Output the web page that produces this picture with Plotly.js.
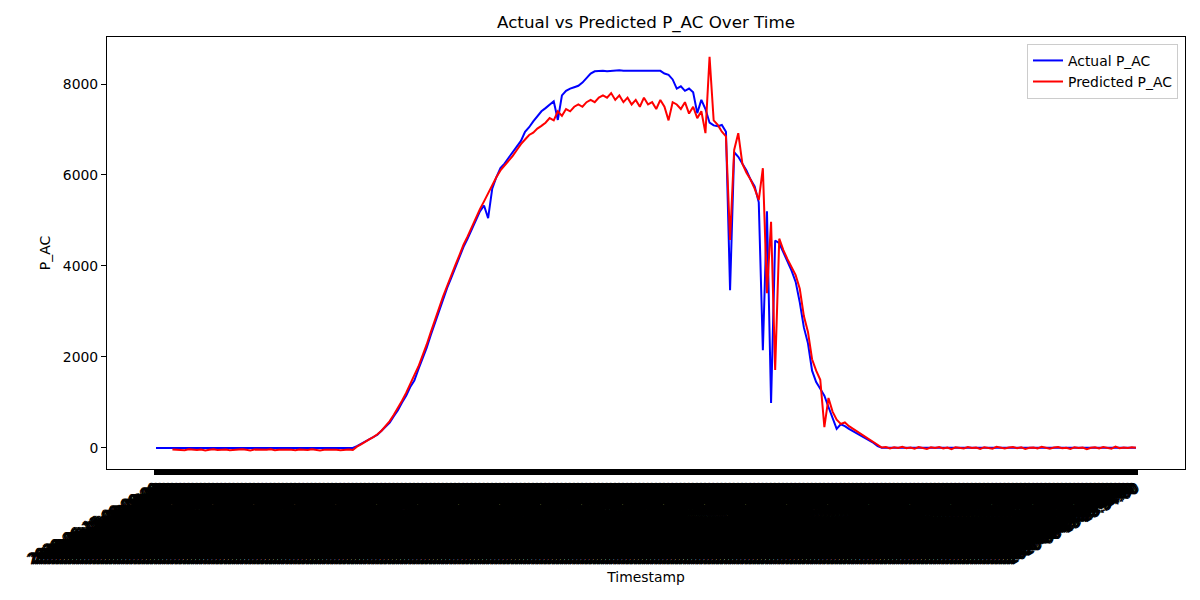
<!DOCTYPE html>
<html>
<head>
<meta charset="utf-8">
<script src="https://cdn.plot.ly/plotly-3.0.1.min.js"></script>
<style>
  html, body { margin: 0; padding: 0; background: #fff; }
  #chart { width: 1200px; height: 600px; }
</style>
</head>
<body>
<div id="chart"></div>
<script>
// timestamps: one label per sample, 6 minute steps through the day
const startDay = '2020-06-15';
const stepMinutes = 6;
const sampleCount = 240;

// actual P_AC (blue)
const actualPAC = [
  /* 0 */   0, 0, 0, 0, 0, 0, 0, 0, 0, 0,
  /* 10 */  0, 0, 0, 0, 0, 0, 0, 0, 0, 0,
  /* 20 */  0, 0, 0, 0, 0, 0, 0, 0, 0, 0,
  /* 30 */  0, 0, 0, 0, 0, 0, 0, 0, 0, 0,
  /* 40 */  0, 0, 0, 0, 0, 0, 0, 0, 0, 40,
  /* 50 */  90, 150, 200, 250, 290, 380, 460, 560, 700, 830,
  /* 60 */  1000, 1150, 1340, 1480, 1730, 1960, 2200, 2480, 2750, 3000,
  /* 70 */  3280, 3520, 3740, 3980, 4200, 4420, 4600, 4800, 5000, 5200,
  /* 80 */  5330, 5050, 5700, 5950, 6150, 6250, 6380, 6500, 6620, 6750,
  /* 90 */  6950, 7050, 7180, 7300, 7400, 7470, 7550, 7620, 7210, 7750,
  /* 100 */ 7850, 7900, 7930, 7960, 8030, 8120, 8230, 8280, 8290, 8290,
  /* 110 */ 8280, 8290, 8290, 8300, 8290, 8290, 8280, 8290, 8290, 8290,
  /* 120 */ 8290, 8280, 8290, 8290, 8230, 8200, 8100, 7900, 7950, 7850,
  /* 130 */ 7900, 7820, 7360, 7650, 7450, 7150, 7090, 7070, 7100, 6950,
  /* 140 */ 3470, 6500, 6400, 6250, 6100, 5900, 5750, 5400, 2150, 5200,
  /* 150 */ 990, 4560, 4500, 4300, 4100, 3900, 3650, 3200, 2650, 2300,
  /* 160 */ 1700, 1450, 1300, 1150, 900, 650, 420, 520, 480, 420,
  /* 170 */ 370, 320, 270, 220, 170, 110, 40, 5, 5, 5,
  /* 180 */ 10, 5, 5, 5, 10, 5, 5, 0, 5, 5,
  /* 190 */ 5, 10, 5, 5, 5, 5, 10, 5, 5, 5,
  /* 200 */ 5, 5, 10, 5, 5, 5, 5, 5, 10, 5,
  /* 210 */ 5, 5, 5, 10, 5, 5, 5, 15, 5, 5,
  /* 220 */ 5, 5, 5, 10, 5, 5, 5, 5, 5, 10,
  /* 230 */ 5, 5, 5, 5, 10, 5, 5, 5, 5, 5
];

// predicted P_AC (red), model output starts a few samples in
const predictedPAC = [
  /* 0 */   null, null, null, null, -35, -45, -40, -50, -30, -40,
  /* 10 */  -45, -35, -55, -40, -30, -45, -40, -35, -50, -40,
  /* 20 */  -45, -30, -40, -55, -35, -40, -45, -40, -30, -50,
  /* 30 */  -40, -35, -45, -40, -50, -35, -40, -45, -30, -40,
  /* 40 */  -55, -40, -35, -45, -40, -50, -40, -35, -45, 30,
  /* 50 */  80, 140, 190, 240, 300, 380, 480, 590, 730, 870,
  /* 60 */  1040, 1210, 1390, 1600, 1790, 2020, 2270, 2540, 2810, 3070,
  /* 70 */  3330, 3560, 3810, 4020, 4240, 4470, 4650, 4860, 5060, 5250,
  /* 80 */  5420, 5600, 5750, 5950, 6100, 6200, 6300, 6420, 6550, 6680,
  /* 90 */  6780, 6880, 6930, 7020, 7080, 7150, 7250, 7200, 7400, 7300,
  /* 100 */ 7450, 7400, 7500, 7550, 7500, 7600, 7650, 7600, 7700, 7750,
  /* 110 */ 7700, 7800, 7650, 7750, 7600, 7700, 7550, 7650, 7500, 7700,
  /* 120 */ 7550, 7600, 7450, 7650, 7500, 7200, 7600, 7550, 7450, 7600,
  /* 130 */ 7350, 7500, 7250, 7400, 6920, 8600, 7200, 7100, 6950, 6850,
  /* 140 */ 4570, 6550, 6920, 6250, 6050, 5900, 5700, 5450, 6150, 3400,
  /* 150 */ 4970, 1715, 4600, 4350, 4150, 3980, 3800, 3500, 2900, 2550,
  /* 160 */ 1950, 1700, 1500, 460, 1100, 800, 620, 530, 560, 480,
  /* 170 */ 420, 360, 300, 240, 190, 130, 60, 10, 20, -10,
  /* 180 */ 15, 0, 25, -5, 10, -15, 20, 5, -20, 15,
  /* 190 */ 0, 20, -10, 10, -25, 15, 5, -10, 20, 0,
  /* 200 */ 10, -20, 15, 5, -15, 25, 0, -10, 10, 20,
  /* 210 */ -5, 15, -20, 5, 10, -10, 25, 0, -15, 10,
  /* 220 */ 20, -5, 5, -20, 15, 0, 10, -25, 5, 15,
  /* 230 */ -10, 20, 0, -15, 30, -5, 10, 0, 15, 5
];

function pad(n) { return String(n).padStart(2, '0'); }

const timestamps = [];
for (let i = 0; i < sampleCount; i++) {
  const mins = i * stepMinutes;
  timestamps.push(`${startDay} ${pad(Math.floor(mins / 60))}:${pad(mins % 60)}:00`);
}

const font = { family: 'DejaVu Sans, Liberation Sans, sans-serif', color: '#000' };

const actualTrace = {
  x: timestamps,
  y: actualPAC,
  type: 'scatter',
  mode: 'lines',
  name: 'Actual P_AC',
  line: { color: '#0000ff', width: 2 }
};

const predictedTrace = {
  x: timestamps,
  y: predictedPAC,
  type: 'scatter',
  mode: 'lines',
  name: 'Predicted P_AC',
  line: { color: '#ff0000', width: 2 }
};

const last = sampleCount - 1;

const layout = {
  width: 1200,
  height: 600,
  margin: { l: 107, r: 15, t: 37, b: 131 },
  paper_bgcolor: '#fff',
  plot_bgcolor: '#fff',
  font: { ...font, size: 13.9 },
  title: {
    text: 'Actual vs Predicted P_AC Over Time',
    font: { ...font, size: 16.7 },
    x: 0.5, xref: 'paper',
    y: 1 - 22 / 600, yref: 'container', yanchor: 'middle'
  },
  xaxis: {
    type: 'category',
    range: [-0.05 * last, last * 1.05],
    tickmode: 'linear', tick0: 0, dtick: 1,
    tickangle: -30,
    // labels overlap into one dark band, as in the original
    tickfont: { ...font, size: 13.9, shadow: '1.5px 0 0 #000, -1.5px 0 0 #000, 0 1px 0 #000, 0 -1px 0 #000' },
    ticks: 'outside', ticklen: 5, tickwidth: 4.2, tickcolor: '#000',
    showgrid: false, zeroline: false,
    showline: true, mirror: true, linecolor: '#000', linewidth: 1,
    automargin: false,
    title: { text: 'Timestamp', font: { ...font, size: 13.9 } }
  },
  yaxis: {
    range: [-462, 9033],
    tickvals: [0, 2000, 4000, 6000, 8000],
    tickfont: { ...font, size: 13.9 },
    ticks: 'outside', ticklen: 5, tickwidth: 1, tickcolor: '#000',
    showgrid: false, zeroline: false,
    showline: true, mirror: true, linecolor: '#000', linewidth: 1,
    automargin: false,
    title: { text: 'P_AC', font: { ...font, size: 13.9 }, standoff: 8 }
  },
  legend: {
    x: 0.9935, xanchor: 'right',
    y: 0.984, yanchor: 'top',
    bgcolor: '#fff',
    bordercolor: '#cccccc', borderwidth: 1,
    tracegroupgap: 0,
    font: { ...font, size: 13.9 }
  },
  showlegend: true
};

Plotly.newPlot('chart', [actualTrace, predictedTrace], layout, { displayModeBar: false, staticPlot: true });
</script>
</body>
</html>
